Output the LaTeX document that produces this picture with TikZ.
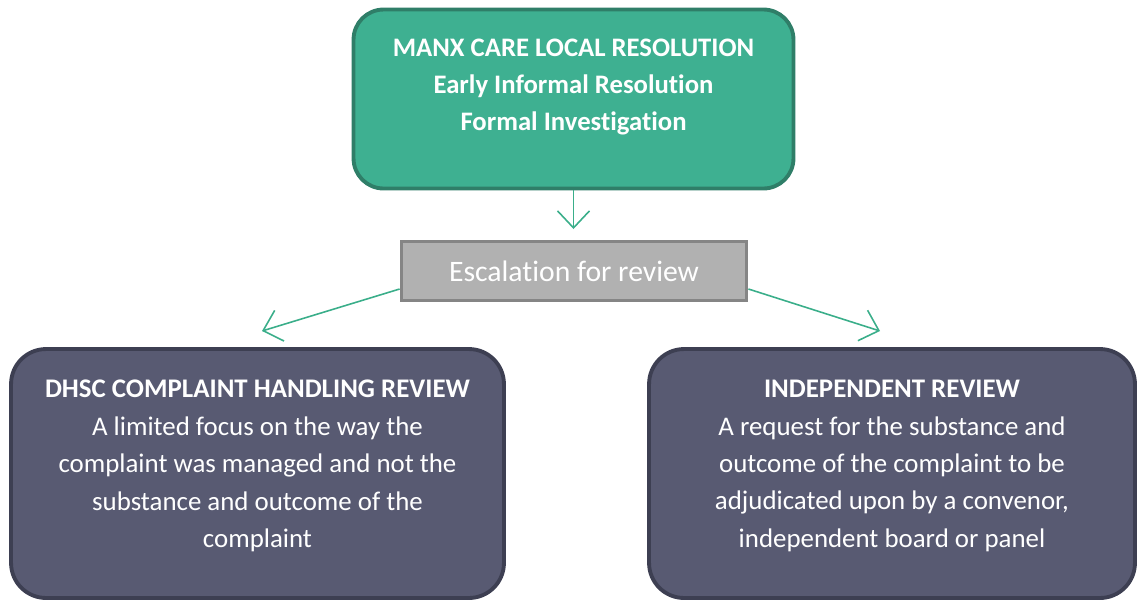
\documentclass[tikz,border=0pt]{standalone}
\usepackage{fontspec}
\setmainfont{Carlito}[Ligatures=NoCommon]
\usetikzlibrary{arrows.meta,positioning}
\definecolor{careGreen}{HTML}{3EB091}
\definecolor{careGreenDark}{HTML}{2F7E68}
\definecolor{arrowGreen}{HTML}{3AAE8A}
\definecolor{escGrey}{HTML}{B1B1B1}
\definecolor{escGreyDark}{HTML}{858585}
\definecolor{reviewSlate}{HTML}{585A72}
\definecolor{reviewSlateDark}{HTML}{3D3F52}
\tikzset{
  localbox/.style={draw=careGreenDark, fill=careGreen, line width=2.2pt,
    rounded corners=0.6cm, minimum width=8.8cm, minimum height=3.58cm},
  escbox/.style={draw=escGreyDark, fill=escGrey, line width=2.2pt,
    minimum width=6.9cm, minimum height=1.18cm, text=white,
    font=\fontsize{16.9}{20}\selectfont},
  reviewbox/.style={draw=reviewSlateDark, fill=reviewSlate, line width=2.2pt,
    rounded corners=0.7cm, minimum width=9.86cm, minimum height=4.98cm},
  boxtext/.style={text=white, align=center, inner sep=0pt,
    font=\fontsize{15.3}{21.3}\selectfont},
  flow/.style={draw=arrowGreen, line width=0.9pt,
    -{Straight Barb[length=0.34cm,width=0.64cm,line width=0.9pt]}}
}
\begin{document}
\begin{tikzpicture}[x=0.02cm,y=-0.02cm]
\useasboundingbox (0,0) rectangle (1138,603);
% boxes
\node[localbox] (local) at (573.5,99) {};
\node[boxtext, font=\fontsize{15.2}{21.3}\selectfont\bfseries] (localtxt) at (573.5,87)
  {MANX CARE LOCAL RESOLUTION\\Early Informal Resolution\\Formal Investigation};
\node[escbox] (esc) at (574,271) {Escalation for review};
\node[reviewbox] (dhsc) at (257.5,473.5) {};
\node[reviewbox, minimum width=9.72cm] (indep) at (892,473.5) {};
\node[boxtext] (dhsctxt) at (257.5,466)
  {\textbf{\fontsize{15.3}{21.3}\selectfont DHSC COMPLAINT HANDLING REVIEW}\\
   A limited focus on the way the\\complaint was managed and not the\\
   substance and outcome of the\\complaint};
\node[boxtext] (indeptxt) at (892,466)
  {\textbf{\fontsize{15.3}{21.3}\selectfont INDEPENDENT REVIEW}\\
   A request for the substance and\\outcome of the complaint to be\\
   adjudicated upon by a convenor,\\independent board or panel};
% arrows
\coordinate (esctop) at (573.5,229);
\coordinate (lefttip) at (262,331);
\coordinate (righttip) at (880,331);
\draw[flow] (local.south) -- (esctop);
\draw[flow] ([yshift=-0.36cm]esc.west) -- (lefttip);
\draw[flow] ([yshift=-0.36cm]esc.east) -- (righttip);
\end{tikzpicture}
\end{document}
